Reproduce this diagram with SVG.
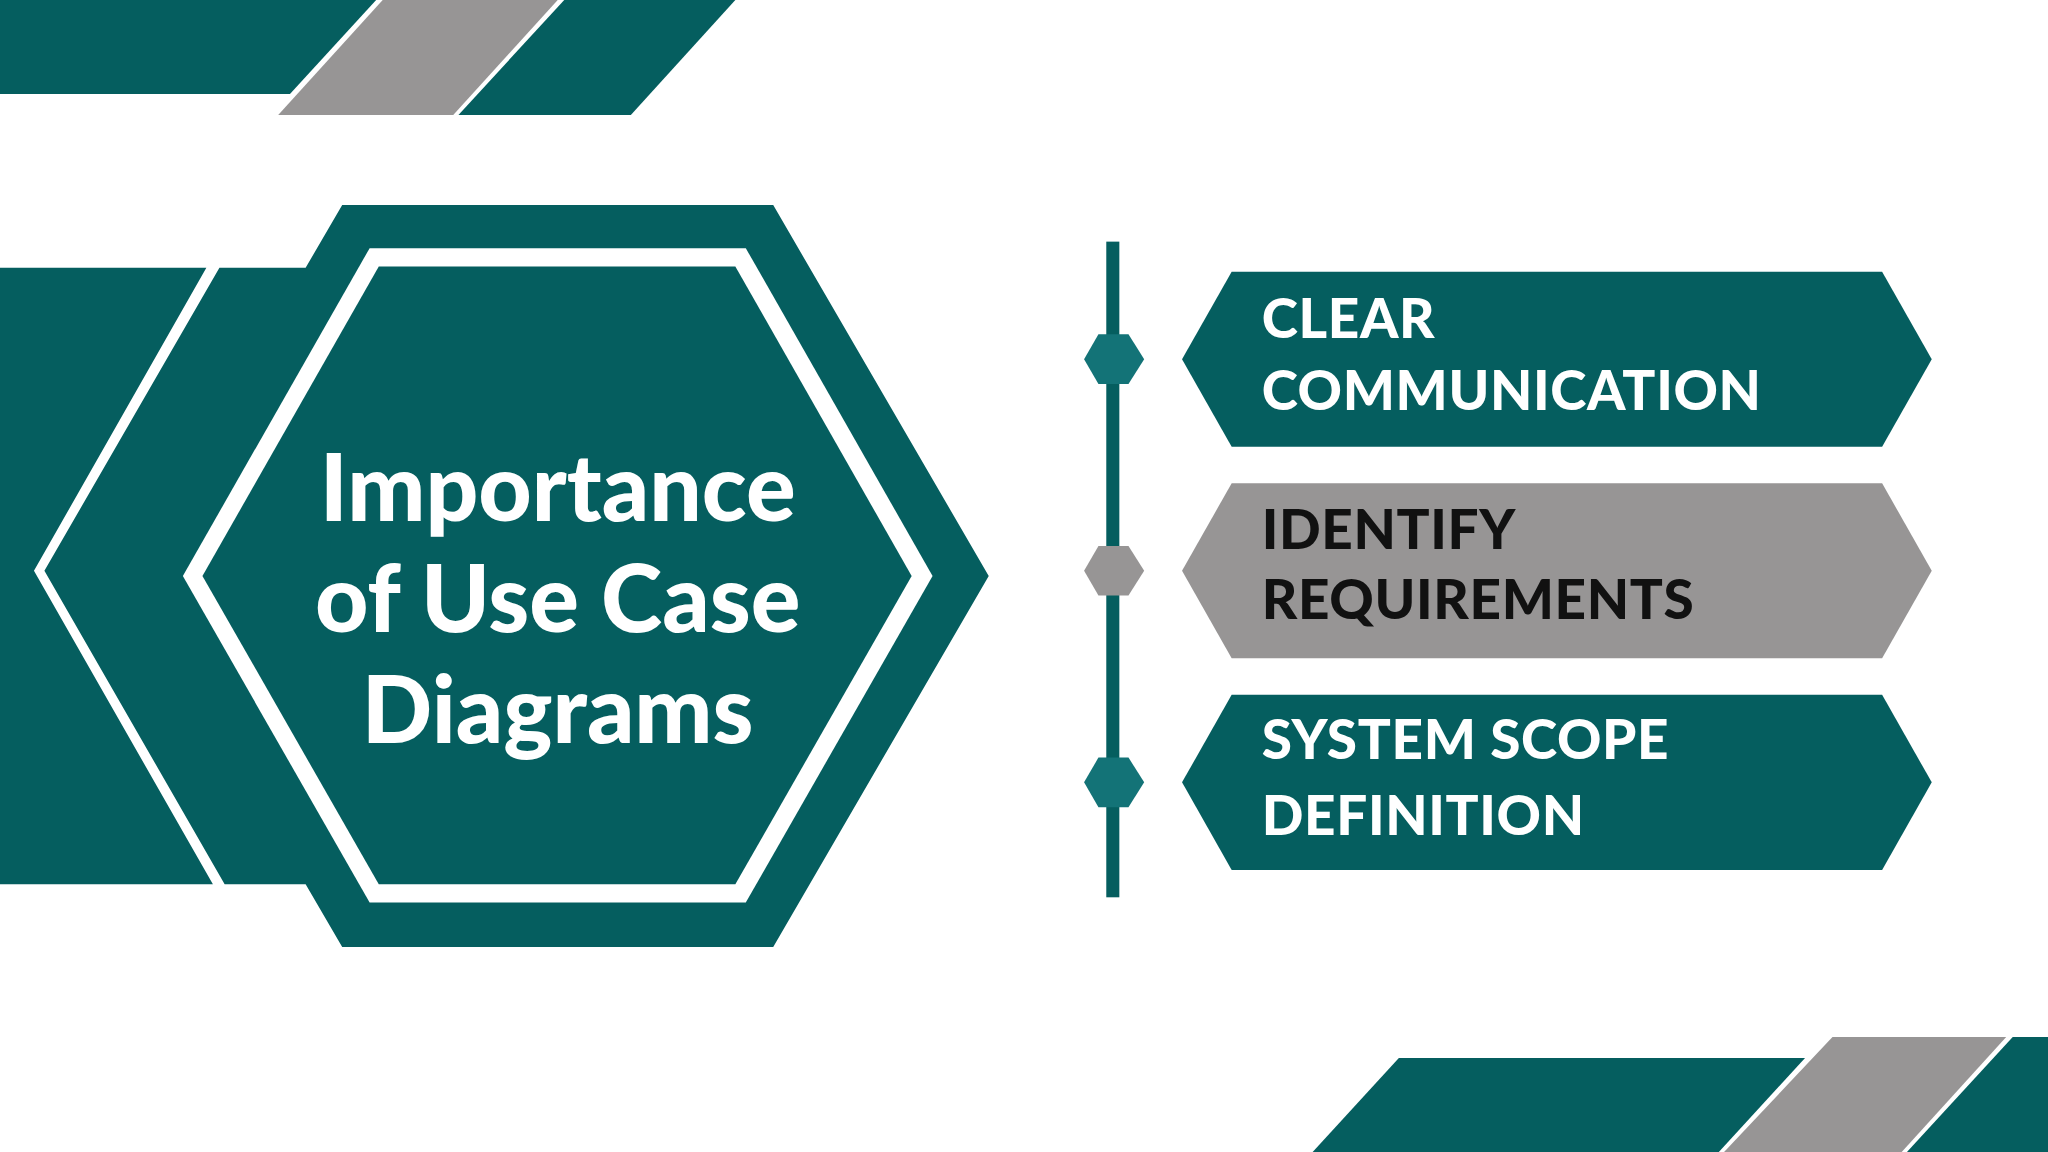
<svg xmlns="http://www.w3.org/2000/svg" width="2048" height="1152" viewBox="0 0 2048 1152">
<style>
.t{fill:#055e5f}.g{fill:#979595}.w{fill:#fff}
.title{font-family:Lato,"Liberation Sans",sans-serif;font-weight:900;font-size:71px;fill:#fff;text-anchor:middle}
.lbl{font-family:Lato,"Liberation Sans",sans-serif;font-weight:900;font-size:42px;letter-spacing:0.5px}
</style>
<rect width="2048" height="1152" fill="#fff"/>
<g transform="scale(1.30612)">
<g id="decor">
<polygon class="t" points="0,0 288,0 222,72 0,72"/>
<polygon class="g" points="293,0 427,0 347,88 213,88"/>
<polygon class="t" points="432,0 563,0 483,88 351,88"/>
<polygon class="t" points="1071,810 1382,810 1316,882 1005,882"/>
<polygon class="g" points="1403,794 1536,794 1456,882 1320,882"/>
<polygon class="t" points="1541,794 1568,794 1568,882 1460,882"/>
</g>
<g id="main">
<polygon class="t" points="0,205 158,205 26,437 163,677 0,677"/>
<polygon class="t" points="262,157 592,157 757,441 592,725 262,725 234,677 172,677 34,437 168,205 234,205"/>
<polygon class="w" points="283,190 571,190 714,441 571,691 283,691 140,441"/>
<polygon class="t" points="290,204 563,204 698,441 563,677 290,677 155,441"/>
<text class="title" x="427" y="399">Importance</text>
<text class="title" x="427" y="484">of Use Case</text>
<text class="title" x="427" y="569">Diagrams</text>
</g>
<g id="connectors">
<rect class="t" x="847" y="185" width="10" height="502"/>
<polygon fill="#137377" points="830,275 841,256 864,256 876,275 864,294 841,294"/>
<polygon class="g" points="830,437 841,418 864,418 876,437 864,456 841,456"/>
<polygon fill="#137377" points="830,599 841,580 864,580 876,599 864,618 841,618"/>
</g>
<g id="n1">
<polygon class="t" points="943,208 1441,208 1479,275 1441,342 943,342 905,275"/>
<text class="lbl" fill="#fff" x="966" y="259">CLEAR</text>
<text class="lbl" fill="#fff" x="966" y="314">COMMUNICATION</text>
</g>
<g id="n2">
<polygon class="g" points="943,370 1441,370 1479,437 1441,504 943,504 905,437"/>
<text class="lbl" fill="#111" x="966" y="420">IDENTIFY</text>
<text class="lbl" fill="#111" x="966" y="474">REQUIREMENTS</text>
</g>
<g id="n3">
<polygon class="t" points="943,532 1441,532 1479,599 1441,666 943,666 905,599"/>
<text class="lbl" fill="#fff" x="966" y="581">SYSTEM SCOPE</text>
<text class="lbl" fill="#fff" x="966" y="639">DEFINITION</text>
</g>
</g>
</svg>
